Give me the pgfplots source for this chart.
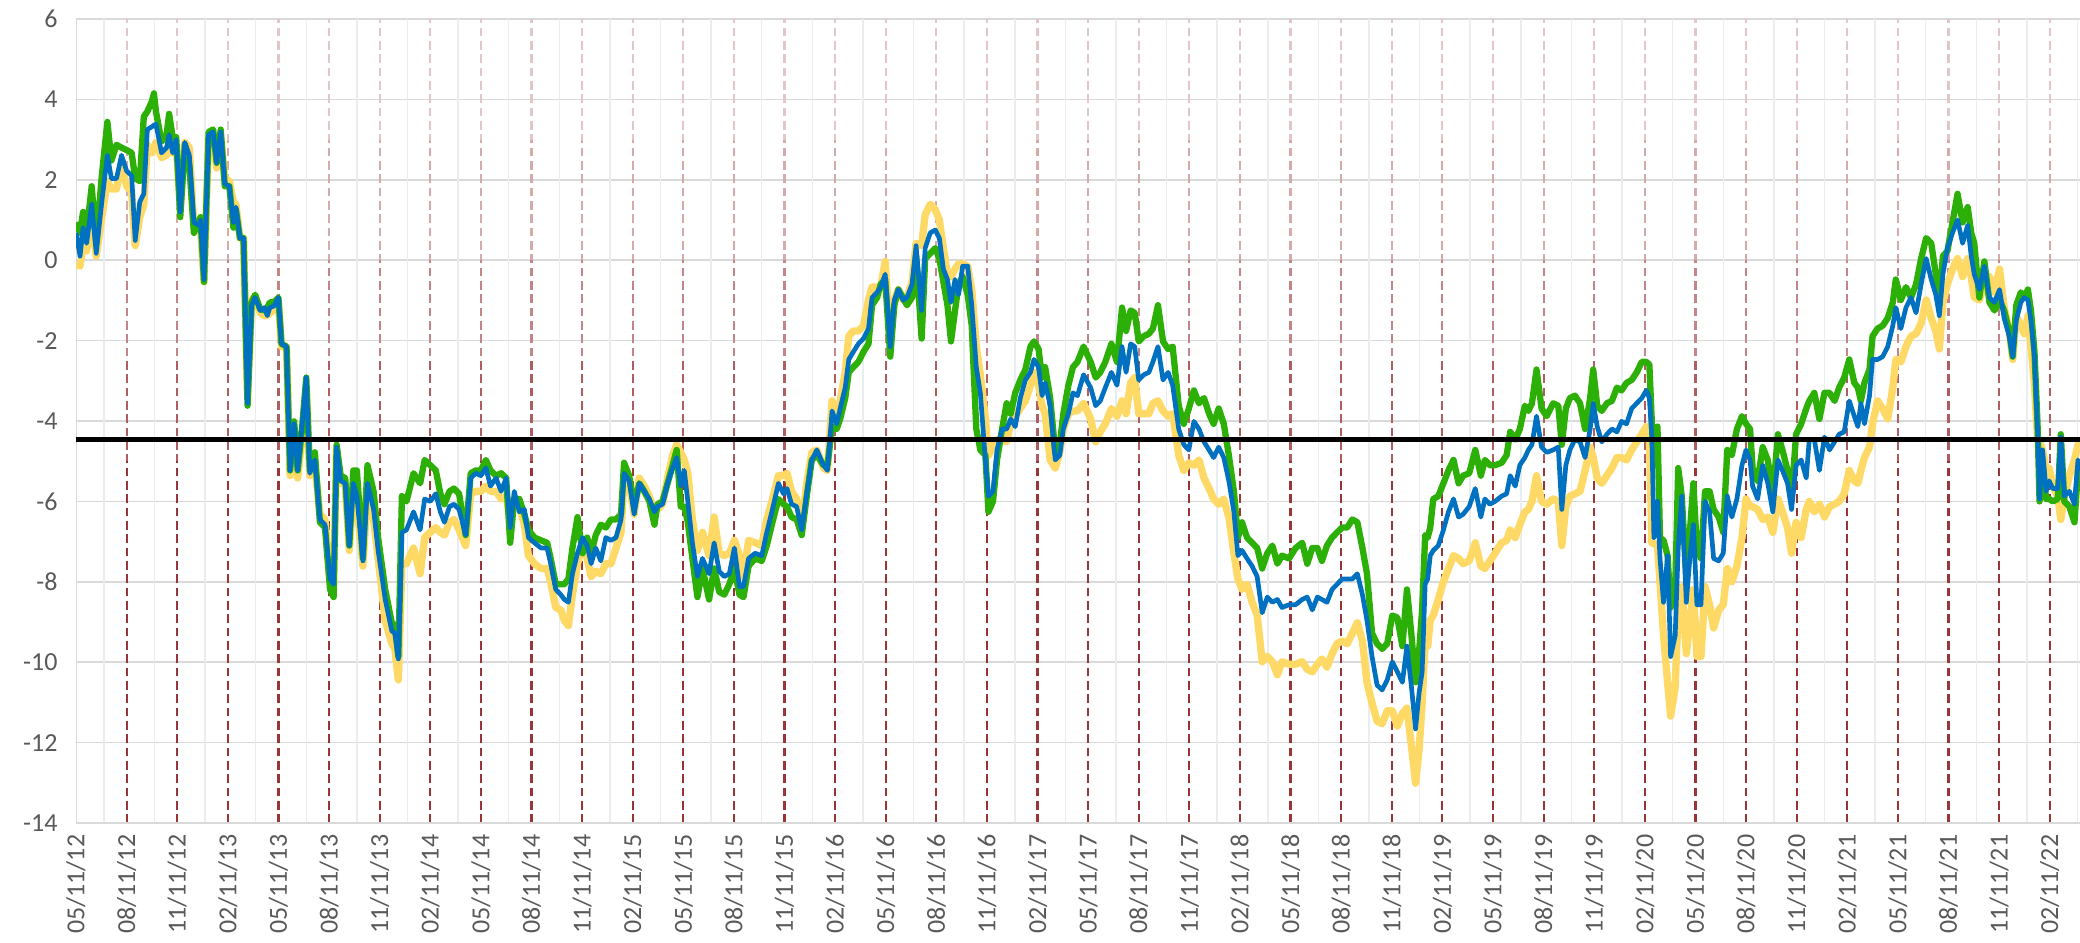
\documentclass[border=0pt]{standalone}
\usepackage{fontspec}
\setmainfont{Carlito}
\usepackage{pgfplots}
\pgfplotsset{compat=1.18}
\usepackage{pgfplotstable}

\definecolor{gold}{RGB}{255,217,102}
\definecolor{grn}{RGB}{44,176,8}
\definecolor{blu}{RGB}{0,112,192}
\definecolor{dred}{RGB}{155,52,55}
\definecolor{gridc}{RGB}{217,217,217}
\definecolor{faint}{RGB}{232,237,241}
\definecolor{lbl}{RGB}{89,89,89}
\tikzset{dl/.style={line width=0.65pt, dash pattern=on 2.6pt off 1.4pt}}

% q = quarters since 05/11/12; y = yellow, g = green, b = blue
\pgfplotstableread{
q y g b
0.00 -0.09 0.94 0.68
0.08 -0.15 0.68 0.10
0.14 0.36 1.20 0.81
0.21 0.23 0.68 0.42
0.31 1.00 1.84 1.39
0.40 0.10 0.42 0.17
0.51 1.07 2.10 1.45
0.62 1.97 3.44 2.61
0.70 1.77 2.48 2.03
0.80 1.77 2.87 2.03
0.90 2.42 2.80 2.61
1.00 1.84 2.74 2.22
1.10 1.71 2.67 2.10
1.17 0.36 2.03 0.49
1.26 1.07 1.97 1.45
1.34 1.39 3.57 1.65
1.41 2.87 3.70 3.25
1.50 2.67 3.95 3.32
1.54 2.80 4.15 3.36
1.58 2.93 3.70 3.38
1.69 2.55 2.95 2.67
1.79 2.61 3.12 2.80
1.84 2.93 3.64 3.12
1.91 2.67 3.06 2.67
1.98 2.87 3.06 3.00
2.06 1.32 1.07 1.20
2.15 2.93 2.87 2.93
2.24 2.80 2.35 2.61
2.33 0.81 0.68 0.94
2.42 0.75 0.94 0.87
2.46 0.81 1.07 1.00
2.53 -0.54 -0.54 -0.48
2.62 3.06 3.19 3.12
2.71 3.06 3.25 3.19
2.78 2.29 2.42 2.42
2.86 3.06 3.25 3.19
2.94 2.03 1.84 1.90
3.03 1.97 1.84 1.84
3.11 1.45 0.81 0.94
3.16 1.39 1.26 1.32
3.24 0.55 0.55 0.55
3.31 0.55 0.55 0.55
3.39 -3.37 -3.62 -3.56
3.47 -0.99 -1.05 -1.12
3.54 -0.93 -0.86 -0.93
3.64 -1.31 -1.22 -1.25
3.72 -1.38 -1.25 -1.18
3.78 -1.38 -1.18 -1.38
3.83 -1.31 -1.05 -1.18
3.91 -1.25 -1.05 -1.14
4.00 -1.05 -0.93 -0.93
4.06 -2.15 -2.08 -2.08
4.16 -2.15 -2.15 -2.15
4.23 -5.36 -5.23 -5.23
4.31 -4.20 -4.01 -4.07
4.38 -5.42 -5.23 -5.23
4.47 -4.33 -4.14 -4.07
4.55 -3.17 -2.92 -2.92
4.62 -5.36 -5.23 -5.30
4.72 -5.10 -4.78 -4.97
4.82 -6.32 -6.52 -6.45
4.92 -6.45 -6.65 -6.58
5.02 -8.00 -8.19 -7.93
5.09 -8.06 -8.38 -8.06
5.15 -4.72 -4.59 -4.65
5.23 -5.55 -5.36 -5.49
5.32 -5.55 -5.42 -5.55
5.40 -7.22 -7.10 -7.10
5.48 -5.68 -5.23 -5.55
5.55 -6.07 -5.23 -5.87
5.67 -7.61 -7.42 -7.48
5.76 -5.75 -5.10 -5.55
5.88 -6.45 -5.75 -6.20
5.97 -7.42 -6.90 -7.22
6.11 -8.96 -8.19 -8.44
6.24 -9.54 -9.02 -9.22
6.30 -9.67 -9.09 -9.28
6.37 -10.44 -9.86 -9.92
6.44 -7.55 -5.87 -6.77
6.53 -7.55 -6.00 -6.71
6.67 -7.16 -5.30 -6.26
6.80 -7.80 -5.55 -6.71
6.89 -6.90 -4.97 -5.94
7.00 -6.77 -5.10 -6.00
7.11 -6.65 -5.23 -5.81
7.20 -6.77 -5.81 -6.26
7.28 -6.84 -6.07 -6.52
7.38 -6.52 -5.75 -6.13
7.47 -6.45 -5.68 -6.07
7.57 -6.71 -5.81 -6.20
7.70 -7.10 -6.84 -6.84
7.80 -5.81 -5.30 -5.42
7.90 -5.75 -5.23 -5.30
8.00 -5.75 -5.23 -5.36
8.10 -5.62 -4.97 -5.17
8.19 -5.75 -5.23 -5.62
8.30 -5.75 -5.36 -5.42
8.40 -5.94 -5.30 -5.75
8.50 -5.87 -5.42 -5.42
8.58 -6.45 -7.03 -6.65
8.66 -5.94 -5.94 -5.75
8.76 -6.13 -5.94 -6.26
8.86 -6.58 -6.32 -6.20
8.94 -7.35 -6.71 -6.90
9.06 -7.55 -6.90 -7.03
9.19 -7.67 -6.97 -7.16
9.31 -7.67 -7.03 -7.16
9.38 -8.00 -7.42 -7.55
9.48 -8.64 -8.06 -8.19
9.58 -8.70 -8.06 -8.32
9.65 -8.96 -8.06 -8.44
9.73 -9.09 -7.93 -8.51
9.81 -8.32 -7.16 -7.80
9.91 -7.55 -6.39 -7.29
10.01 -7.03 -7.29 -6.90
10.10 -7.42 -6.90 -7.10
10.18 -7.87 -7.29 -7.55
10.27 -7.74 -6.84 -7.16
10.37 -7.80 -6.58 -7.48
10.47 -7.55 -6.65 -6.90
10.57 -7.55 -6.45 -6.97
10.67 -7.16 -6.45 -6.90
10.77 -6.77 -6.32 -6.45
10.83 -5.42 -5.04 -5.30
10.93 -5.55 -5.36 -5.49
11.03 -6.32 -6.13 -6.32
11.13 -5.42 -5.55 -5.55
11.23 -5.62 -5.75 -5.75
11.33 -5.87 -6.00 -5.94
11.43 -6.26 -6.58 -6.26
11.49 -6.20 -6.07 -6.13
11.59 -6.07 -6.00 -6.07
11.69 -5.42 -5.55 -5.55
11.79 -4.85 -5.10 -5.17
11.87 -4.59 -4.72 -4.91
11.95 -4.78 -6.13 -5.62
12.02 -4.97 -6.13 -5.23
12.09 -5.30 -6.52 -6.00
12.18 -6.45 -7.42 -7.03
12.28 -7.22 -8.38 -7.87
12.38 -6.77 -7.67 -7.42
12.51 -7.35 -8.44 -7.80
12.61 -6.39 -7.67 -7.03
12.71 -7.29 -8.25 -7.74
12.81 -7.35 -8.32 -7.87
12.91 -7.29 -8.06 -7.80
13.01 -6.97 -7.67 -7.16
13.11 -7.35 -8.32 -8.12
13.19 -7.87 -8.38 -8.12
13.29 -6.97 -7.61 -7.42
13.42 -7.03 -7.42 -7.29
13.55 -7.10 -7.48 -7.35
13.65 -6.45 -7.10 -6.77
13.75 -6.00 -6.58 -6.26
13.88 -5.36 -5.94 -5.55
13.98 -5.36 -6.07 -5.81
14.05 -5.30 -6.13 -5.68
14.14 -5.75 -6.39 -6.07
14.24 -5.94 -6.45 -6.13
14.34 -6.58 -6.84 -6.71
14.44 -5.55 -5.87 -5.81
14.54 -4.78 -4.97 -4.97
14.64 -4.72 -4.85 -4.72
14.77 -5.17 -5.10 -5.10
14.85 -5.23 -5.10 -5.23
14.94 -3.50 -4.14 -3.75
15.03 -3.95 -4.20 -4.07
15.10 -3.50 -3.95 -3.69
15.20 -2.79 -3.43 -3.17
15.27 -1.89 -2.79 -2.47
15.36 -1.76 -2.66 -2.28
15.46 -1.76 -2.53 -2.08
15.56 -1.63 -2.28 -1.95
15.66 -0.99 -2.08 -1.70
15.73 -0.67 -1.12 -0.93
15.83 -0.67 -0.93 -0.80
15.90 -0.67 -0.60 -0.67
15.99 -0.03 -0.48 -0.35
16.09 -2.02 -2.40 -2.15
16.17 -0.99 -1.12 -0.99
16.25 -0.73 -0.73 -0.73
16.34 -0.99 -0.93 -0.99
16.42 -0.93 -1.12 -0.93
16.52 -0.54 -0.93 -0.60
16.60 0.42 0.10 0.36
16.71 0.36 -1.95 -1.25
16.78 1.13 0.04 0.30
16.88 1.39 0.17 0.68
16.98 1.26 0.30 0.75
17.06 1.00 0.04 0.55
17.14 0.30 -0.54 -0.22
17.22 -0.35 -1.12 -0.48
17.29 -0.41 -2.02 -1.05
17.37 -0.22 -1.25 -0.48
17.44 -0.09 -0.60 -0.86
17.52 -0.09 -0.41 -0.15
17.62 -0.15 -0.86 -0.15
17.70 -0.73 -1.63 -1.12
17.79 -2.15 -4.20 -2.66
17.87 -2.85 -4.72 -3.30
17.97 -3.95 -4.85 -4.97
18.03 -4.85 -6.26 -5.87
18.12 -4.65 -6.00 -5.75
18.20 -4.46 -4.97 -4.72
18.30 -4.46 -4.20 -4.20
18.39 -4.52 -3.56 -4.20
18.47 -4.07 -3.82 -3.95
18.56 -3.88 -3.30 -4.14
18.66 -3.69 -2.98 -3.43
18.76 -3.50 -2.72 -2.98
18.86 -3.11 -2.15 -2.79
18.93 -2.79 -2.02 -2.47
19.02 -3.11 -2.21 -2.66
19.09 -3.62 -2.92 -3.37
19.15 -3.82 -2.66 -3.05
19.25 -4.97 -3.43 -3.62
19.35 -5.17 -4.78 -4.97
19.44 -4.78 -4.59 -4.85
19.51 -4.20 -3.82 -4.20
19.61 -3.82 -3.11 -3.82
19.70 -3.75 -2.66 -3.30
19.79 -3.75 -2.53 -3.37
19.91 -3.56 -2.15 -2.85
20.05 -3.95 -2.53 -3.17
20.15 -4.52 -2.92 -3.62
20.24 -4.27 -2.79 -3.50
20.34 -4.07 -2.53 -3.17
20.46 -3.69 -2.08 -2.79
20.57 -3.88 -2.53 -3.11
20.67 -3.50 -1.18 -2.15
20.75 -3.82 -1.76 -2.79
20.84 -3.05 -1.25 -2.08
20.92 -2.92 -1.31 -2.15
21.00 -3.82 -2.02 -2.98
21.10 -3.82 -1.89 -2.85
21.20 -3.82 -1.83 -2.79
21.28 -3.56 -1.70 -2.53
21.38 -3.50 -1.12 -2.15
21.48 -3.75 -2.02 -2.98
21.58 -3.88 -2.21 -2.79
21.67 -3.82 -2.15 -3.11
21.79 -4.85 -3.62 -4.20
21.89 -5.23 -4.07 -4.59
21.99 -5.04 -3.69 -4.72
22.09 -5.10 -3.24 -4.01
22.19 -4.97 -3.56 -4.20
22.29 -5.42 -3.43 -4.52
22.39 -5.68 -3.82 -4.72
22.48 -5.94 -4.07 -4.91
22.58 -6.07 -3.69 -4.65
22.68 -5.94 -4.07 -4.91
22.78 -6.39 -4.85 -5.49
22.88 -7.29 -5.75 -6.26
22.96 -7.93 -6.90 -7.35
23.04 -8.19 -6.52 -7.22
23.14 -8.06 -6.90 -7.42
23.24 -8.51 -7.03 -7.61
23.34 -8.83 -7.16 -7.87
23.44 -9.99 -7.67 -8.77
23.54 -9.86 -7.29 -8.38
23.64 -9.99 -7.10 -8.51
23.74 -10.31 -7.55 -8.44
23.83 -9.99 -7.35 -8.64
23.97 -10.05 -7.42 -8.57
24.10 -10.05 -7.16 -8.57
24.23 -9.99 -7.03 -8.44
24.33 -10.18 -7.55 -8.38
24.43 -10.24 -7.16 -8.70
24.53 -10.05 -7.16 -8.38
24.62 -9.92 -7.48 -8.44
24.72 -10.12 -7.10 -8.51
24.82 -9.79 -6.90 -8.19
24.92 -9.54 -6.77 -8.06
25.02 -9.47 -6.65 -7.93
25.12 -9.54 -6.65 -7.93
25.22 -9.28 -6.45 -7.93
25.32 -9.02 -6.52 -7.80
25.42 -9.47 -7.16 -8.32
25.51 -10.50 -7.80 -8.96
25.61 -11.02 -9.28 -9.86
25.71 -11.47 -9.54 -10.57
25.81 -11.53 -9.67 -10.69
25.91 -11.21 -9.54 -10.44
26.01 -11.21 -8.84 -9.99
26.11 -11.59 -8.89 -10.24
26.21 -11.27 -9.60 -10.50
26.30 -11.14 -8.19 -9.60
26.39 -12.11 -9.34 -10.63
26.47 -13.01 -10.50 -11.66
26.54 -12.17 -9.73 -10.76
26.60 -11.02 -8.70 -10.24
26.66 -9.47 -6.84 -8.06
26.71 -9.60 -6.90 -7.93
26.76 -8.96 -6.65 -7.35
26.82 -8.83 -5.94 -7.22
26.92 -8.44 -5.87 -7.10
27.02 -8.00 -5.55 -6.71
27.12 -7.67 -5.23 -6.26
27.22 -7.35 -4.97 -5.94
27.32 -7.42 -5.55 -6.39
27.41 -7.55 -5.36 -6.32
27.53 -7.48 -5.30 -6.13
27.65 -7.03 -4.72 -5.68
27.76 -7.61 -5.36 -6.39
27.84 -7.67 -4.97 -5.94
27.94 -7.48 -5.10 -6.07
28.04 -7.29 -5.10 -6.00
28.17 -7.03 -5.04 -5.87
28.27 -6.97 -4.85 -5.81
28.34 -6.71 -4.27 -5.36
28.44 -6.90 -4.46 -5.62
28.53 -6.58 -4.20 -5.10
28.63 -6.26 -3.62 -4.91
28.70 -6.20 -3.75 -4.72
28.77 -6.00 -3.56 -4.59
28.86 -5.36 -2.72 -3.88
28.96 -6.00 -3.69 -4.65
29.06 -6.07 -3.88 -4.78
29.19 -5.94 -3.56 -4.72
29.29 -6.00 -3.62 -4.65
29.36 -7.10 -4.59 -6.20
29.44 -6.13 -3.69 -5.10
29.52 -5.87 -3.43 -4.72
29.62 -5.81 -3.37 -4.46
29.72 -5.75 -3.56 -4.52
29.82 -5.23 -4.20 -4.91
29.92 -4.65 -3.43 -4.20
29.98 -4.91 -2.72 -3.56
30.06 -5.42 -3.62 -4.14
30.15 -5.55 -3.75 -4.52
30.25 -5.36 -3.56 -4.33
30.35 -5.17 -3.50 -4.20
30.45 -4.91 -3.17 -4.27
30.54 -4.91 -3.24 -4.01
30.64 -4.97 -3.05 -4.07
30.74 -4.72 -2.98 -3.69
30.84 -4.52 -2.79 -3.56
30.94 -4.33 -2.53 -3.43
31.03 -4.14 -2.53 -3.24
31.09 -4.33 -2.60 -3.43
31.14 -7.03 -4.07 -4.40
31.18 -7.05 -5.10 -6.90
31.25 -7.10 -4.14 -6.00
31.30 -8.00 -6.90 -7.42
31.37 -9.34 -6.97 -8.51
31.45 -10.50 -7.35 -7.35
31.51 -11.34 -8.64 -9.86
31.60 -10.63 -8.25 -9.34
31.66 -8.70 -5.17 -7.16
31.73 -8.12 -5.87 -5.87
31.82 -9.79 -7.87 -8.51
31.89 -9.02 -6.77 -7.42
31.96 -8.19 -5.55 -6.58
32.03 -9.86 -7.22 -8.57
32.11 -9.86 -7.42 -8.57
32.19 -8.12 -5.75 -6.00
32.28 -8.57 -5.75 -6.26
32.36 -9.15 -6.20 -7.42
32.46 -8.70 -6.39 -7.48
32.55 -8.57 -6.77 -7.29
32.63 -7.67 -4.72 -5.87
32.72 -8.00 -4.85 -6.39
32.82 -7.61 -4.20 -5.94
32.92 -6.90 -3.88 -5.10
33.00 -5.94 -4.07 -4.72
33.08 -6.13 -4.20 -4.97
33.13 -6.13 -5.17 -5.62
33.23 -6.20 -5.49 -5.94
33.33 -6.45 -4.65 -5.10
33.43 -6.39 -4.97 -5.55
33.53 -6.77 -5.87 -6.26
33.63 -5.94 -4.33 -4.97
33.72 -6.26 -4.72 -5.23
33.82 -6.65 -5.23 -5.55
33.90 -7.29 -5.87 -6.20
33.99 -6.52 -4.33 -5.10
34.09 -6.90 -4.07 -4.97
34.19 -6.20 -3.69 -5.42
34.25 -6.00 -3.50 -4.46
34.35 -6.26 -3.30 -4.46
34.45 -6.07 -3.95 -5.23
34.55 -6.39 -3.30 -4.40
34.65 -6.13 -3.30 -4.72
34.75 -6.07 -3.50 -4.52
34.84 -6.00 -3.17 -4.33
34.94 -5.81 -2.92 -4.27
35.04 -5.23 -2.47 -3.50
35.14 -5.49 -3.05 -3.88
35.21 -5.55 -3.17 -4.14
35.27 -5.23 -3.50 -3.56
35.34 -4.91 -3.05 -4.07
35.44 -4.65 -2.72 -3.37
35.50 -4.07 -1.89 -2.47
35.60 -3.50 -1.70 -2.47
35.70 -3.69 -1.63 -2.40
35.80 -3.95 -1.44 -2.15
35.90 -3.17 -1.05 -1.63
35.96 -2.47 -0.48 -1.18
36.06 -2.53 -0.99 -1.70
36.16 -2.15 -0.67 -1.18
36.26 -1.89 -0.93 -0.93
36.36 -1.83 -0.60 -1.31
36.46 -1.57 0.04 -0.60
36.56 -0.99 0.55 0.04
36.66 -1.44 0.42 -0.48
36.75 -1.76 -0.35 -0.86
36.82 -2.21 -1.12 -1.38
36.89 -1.05 0.10 -0.35
36.98 -0.60 0.23 0.30
37.08 -0.22 0.94 0.68
37.18 0.04 1.65 1.00
37.28 -0.41 0.94 0.42
37.38 0.04 1.32 0.87
37.45 -0.41 0.68 0.10
37.51 -0.93 0.42 -0.35
37.61 -0.99 -0.93 -0.73
37.71 -0.60 -0.03 -0.15
37.81 -0.41 -1.05 -0.93
37.91 -0.80 -1.25 -1.05
38.01 -0.22 -0.99 -0.73
38.10 -1.18 -1.25 -1.44
38.20 -1.76 -1.76 -1.89
38.27 -2.47 -2.40 -2.40
38.34 -1.38 -1.12 -1.50
38.43 -1.63 -0.80 -1.05
38.50 -1.83 -0.93 -0.93
38.57 -1.38 -0.73 -0.99
38.63 -2.15 -1.25 -1.50
38.70 -3.11 -2.28 -2.40
38.76 -4.46 -4.07 -4.20
38.80 -4.52 -6.00 -5.94
38.86 -4.72 -5.10 -4.72
38.93 -5.23 -5.94 -5.75
38.99 -5.17 -5.94 -5.49
39.06 -5.62 -6.00 -5.68
39.16 -5.87 -5.94 -5.68
39.22 -6.45 -4.33 -4.40
39.29 -5.87 -6.00 -5.87
39.39 -5.36 -6.13 -5.75
39.49 -4.97 -6.52 -6.07
39.56 -4.59 -5.23 -4.97
39.62 -4.52 -5.10 -5.23
}\series

\begin{document}
\begin{tikzpicture}
\useasboundingbox (-22.8pt,-36pt) rectangle (601.2pt,246.9pt);
\begin{axis}[
  at={(0,0)}, anchor=south west,
  scale only axis, width=601.2pt, height=241.2pt,
  xmin=0, xmax=39.6, ymin=-14, ymax=6,
  xtick={0,...,39},
  xticklabels={05/11/12,08/11/12,11/11/12,02/11/13,05/11/13,08/11/13,11/11/13,
    02/11/14,05/11/14,08/11/14,11/11/14,02/11/15,05/11/15,08/11/15,11/11/15,
    02/11/16,05/11/16,08/11/16,11/11/16,02/11/17,05/11/17,08/11/17,11/11/17,
    02/11/18,05/11/18,08/11/18,11/11/18,02/11/19,05/11/19,08/11/19,11/11/19,
    02/11/20,05/11/20,08/11/20,11/11/20,02/11/21,05/11/21,08/11/21,11/11/21,
    02/11/22},
  ytick={-14,-12,...,6},
  yticklabels={-14,-12,-10,-8,-6,-4,-2,0,2,4,6},
  major tick length=0pt,
  ymajorgrids, grid style={gridc, line width=0.5pt},
  axis line style={draw=none},
  tick label style={font=\fontsize{7.8}{9}\selectfont, text=lbl},
  x tick label style={rotate=90, anchor=east},
  y tick label style={xshift=-2pt},
]
\pgfplotsinvokeforeach{0.55,1.55,...,39.55}{
  \draw[faint, line width=0.45pt] (axis cs:#1,-14) -- (axis cs:#1,6);
}
\pgfplotsinvokeforeach{1,...,39}{
  \draw[dred!28, dl] (axis cs:#1,-14) -- (axis cs:#1,6);
  \draw[dred!42, dl] (axis cs:#1,-14) -- (axis cs:#1,3);
  \draw[dred!60, dl] (axis cs:#1,-14) -- (axis cs:#1,0);
  \draw[dred!80, dl] (axis cs:#1,-14) -- (axis cs:#1,-2.5);
  \draw[dred, dl] (axis cs:#1,-14) -- (axis cs:#1,-5);
}
\draw[gridc, line width=0.55pt] (axis cs:0,-14) -- (axis cs:0,6);
\draw[gridc, line width=0.55pt] (axis cs:0,-14) -- (axis cs:39.6,-14);

\addplot[gold, line width=2.2pt, line join=round] table[x=q, y=y] {\series};
\addplot[grn, line width=1.9pt, line join=round] table[x=q, y=g] {\series};
\addplot[blu, line width=1.4pt, line join=round] table[x=q, y=b] {\series};
\addplot[black, line width=1.5pt] coordinates {(0,-4.45) (39.6,-4.45)};
\end{axis}
\end{tikzpicture}
\end{document}
